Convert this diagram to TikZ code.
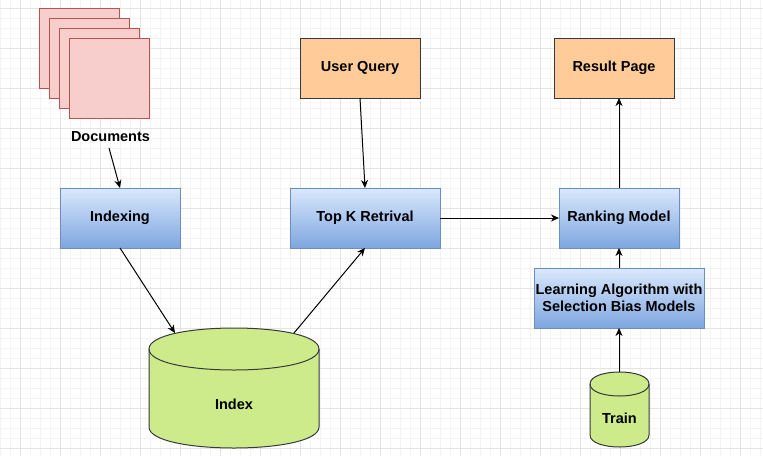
\documentclass[tikz,border=0pt]{standalone}
\usepackage{fontspec}
\setmainfont{Liberation Sans}
\usetikzlibrary{arrows.meta}
\definecolor{docfill}{HTML}{F8CECC}
\definecolor{docline}{HTML}{B85450}
\definecolor{bluetop}{HTML}{DAE8FC}
\definecolor{bluebot}{HTML}{7EA6E0}
\definecolor{blueline}{HTML}{6C8EBF}
\definecolor{orfill}{HTML}{FFCC99}
\definecolor{darkline}{HTML}{36393D}
\definecolor{grfill}{HTML}{CDEB8B}
\definecolor{gridminor}{HTML}{F3F3F3}
\definecolor{gridmajor}{HTML}{E4E4E4}
\tikzset{
  x=1pt, y=-1pt,
  lbl/.style={font=\fontsize{14.5}{17}\selectfont\bfseries, align=center},
  docbox/.style={draw=docline, fill=docfill, line width=1pt, minimum width=80pt, minimum height=80pt, inner sep=0pt, outer sep=0pt},
  bluebox/.style={lbl, draw=blueline, top color=bluetop, bottom color=bluebot, line width=1pt, minimum height=60pt, inner sep=0pt, outer sep=0pt},
  orbox/.style={lbl, draw=darkline, fill=orfill, line width=1pt, minimum width=120pt, minimum height=60pt, inner sep=0pt, outer sep=0pt},
  cyl/.style={draw=darkline, fill=grfill, line width=1pt},
  conn/.style={line width=1pt, -{Stealth[length=8pt,width=7pt,inset=2.5pt]}},
}
\begin{document}
\begin{tikzpicture}
\useasboundingbox (0,0) rectangle (763,456);
\fill[white] (0,0) rectangle (763,456);
% grid
\foreach \gx in {0,10,...,760} \draw[gridminor, line width=0.8pt] (\gx,0) -- (\gx,456);
\foreach \gy in {8,18,...,448} \draw[gridminor, line width=0.8pt] (0,\gy) -- (763,\gy);
\foreach \gx in {20,60,...,740} \draw[gridmajor, line width=0.8pt] (\gx,0) -- (\gx,456);
\foreach \gy in {8,48,...,448} \draw[gridmajor, line width=0.8pt] (0,\gy) -- (763,\gy);

% documents stack
\node[docbox] (doc1) at (79,48) {};
\node[docbox] (doc2) at (89,58) {};
\node[docbox] (doc3) at (99,68) {};
\node[docbox] (doc4) at (109,78) {};
\node[lbl] (docs) at (110.5,137) {Documents};
\coordinate (docsout) at (109,148);

% boxes
\node[bluebox, minimum width=120pt] (indexing) at (120,218) {Indexing};
\node[bluebox, minimum width=150pt] (topk) at (365,218) {Top K Retrival};
\node[bluebox, minimum width=120pt] (rank) at (619,218) {Ranking Model};
\node[bluebox, minimum width=170pt] (learn) at (619,298) {Learning Algorithm with\\Selection Bias Models};
\node[orbox] (uq) at (360,68) {User Query};
\node[orbox] (result) at (614,68) {Result Page};

% Index cylinder
\path[cyl] (149,349) -- (149,427) .. controls (149,455) and (319,455) .. (319,427) -- (319,349) .. controls (319,321) and (149,321) .. (149,349) -- cycle;
\draw[darkline, line width=1pt] (149,349) .. controls (149,377) and (319,377) .. (319,349);
\node[lbl] (index) at (234,404) {Index};
\coordinate (idxin) at (175,333);
\coordinate (idxout) at (294,333);

% Train cylinder
\path[cyl] (590,384) -- (590,435) .. controls (590,451) and (649,451) .. (649,435) -- (649,384) .. controls (649,368) and (590,368) .. (590,384) -- cycle;
\draw[darkline, line width=1pt] (590,384) .. controls (590,400) and (649,400) .. (649,384);
\node[lbl] (train) at (619.5,418) {Train};
\coordinate (traintop) at (619,372);

% connectors
\draw[conn] (docsout) -- (indexing.north);
\draw[conn] (indexing.south) -- (idxin);
\draw[conn] (idxout) -- (topk.south);
\draw[conn] (uq.south) -- (topk.north);
\draw[conn] (topk.east) -- (rank.west);
\draw[conn] (rank.north) -- (rank.north |- result.south);
\draw[conn] (learn.north) -- (rank.south);
\draw[conn] (traintop) -- (learn.south);
\end{tikzpicture}
\end{document}
